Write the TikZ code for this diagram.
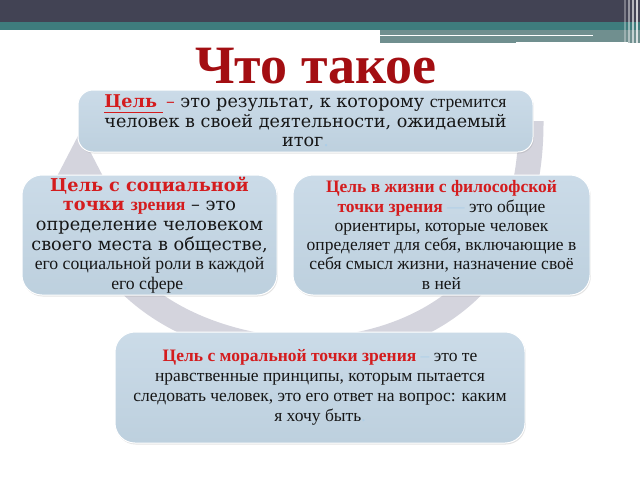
\documentclass[tikz,border=0pt]{standalone}
\usepackage{fontspec}
\setmainfont{Liberation Serif}
\newfontfamily\wide{DejaVu Serif}
\usetikzlibrary{shadows}
\definecolor{barc}{RGB}{66,67,84}
\definecolor{tealc}{RGB}{62,124,125}
\definecolor{stripc}{RGB}{112,143,143}
\definecolor{ringc}{RGB}{212,212,221}
\definecolor{boxtop}{RGB}{203,219,232}
\definecolor{boxbot}{RGB}{189,208,222}
\definecolor{redt}{RGB}{212,28,30}
\definecolor{titlec}{RGB}{163,14,18}
\definecolor{faint}{RGB}{172,206,232}
\definecolor{txt}{RGB}{22,22,22}
\begin{document}
\begin{tikzpicture}[x=1pt,y=-1pt,
  card/.style={draw=white, line width=1pt, top color=boxtop, bottom color=boxbot,
    drop shadow={opacity=0.22,shadow xshift=0.8pt,shadow yshift=-1.5pt},
    inner sep=0pt, text=txt, align=center}]
\useasboundingbox (0,0) rectangle (640,480);
\fill[white] (0,0) rectangle (640,480);
% top bar
\fill[barc] (0,0) rectangle (640,22);
\fill[tealc] (0,22) rectangle (640,30);
\fill[stripc] (380,30) rectangle (640,43);
\draw[white, line width=1.2pt] (380,35.5) -- (593,35.5);
\draw[white, line width=1.5pt] (516,42.5) -- (628,42.5);
\foreach \xx/\cc in {624/30,628/45,632/60,636/75}
  \fill[white, opacity=0.\cc] (\xx,0) rectangle ++(2,43);
% ring arrow
\draw[ringc, line width=25pt] (531,121) .. controls (532,320) and (372,350) .. (306,350)
  .. controls (240,350) and (100,318) .. (80,184);
\fill[ringc] (52,186) -- (80,132) -- (108,186) -- cycle;
% title
\node[anchor=base, text=titlec, font=\fontsize{54}{54}\selectfont\bfseries] (title) at (316,83) {Что такое};
% boxes
\node[card, rounded corners=15pt, minimum width=455pt, minimum height=62pt,
  font=\wide\fontsize{17.6}{19.5}\selectfont] (def) at (305.5,121)
 {\textcolor{redt}{\textbf{\underline{Цель }}\,–} это результат, к которому {\rmfamily стремится}\\
  человек в своей деятельности, ожидаемый\\
  итог\textcolor{faint}{.}};
\node[card, rounded corners=20pt, minimum width=255pt, minimum height=120pt,
  font=\wide\fontsize{17.7}{19.6}\selectfont] (soc) at (149.5,235)
 {\textcolor{redt}{\bfseries Цель с социальной}\\
  \textcolor{redt}{\bfseries точки {\rmfamily зрения}} – это\\
  определение человеком\\
  своего места в обществе,\\
  {\rmfamily его социальной роли в каждой}\\
  {\rmfamily его сфере\textcolor{faint}{.}}};
\node[card, rounded corners=20pt, minimum width=297pt, minimum height=120pt,
  font=\fontsize{17.5}{19.3}\selectfont] (phil) at (441.5,235)
 {\textcolor{redt}{\bfseries Цель в жизни с философской}\\
  \textcolor{redt}{\bfseries точки зрения} \textcolor{faint}{—} это общие\\
  ориентиры, которые человек\\
  определяет для себя, включающие в\\
  себя смысл жизни, назначение своё\\
  в ней};
\node[card, rounded corners=20pt, minimum width=410pt, minimum height=111pt,
  font=\fontsize{17.5}{20}\selectfont] (moral) at (320,387.5)
 {\textcolor{redt}{\bfseries Цель с моральной точки зрения} \textcolor{faint}{–} это те\\
  нравственные принципы, которым пытается\\
  следовать человек, это его ответ на вопрос: каким\\
  я хочу быть\textcolor{faint}{.}};
\end{tikzpicture}
\end{document}
